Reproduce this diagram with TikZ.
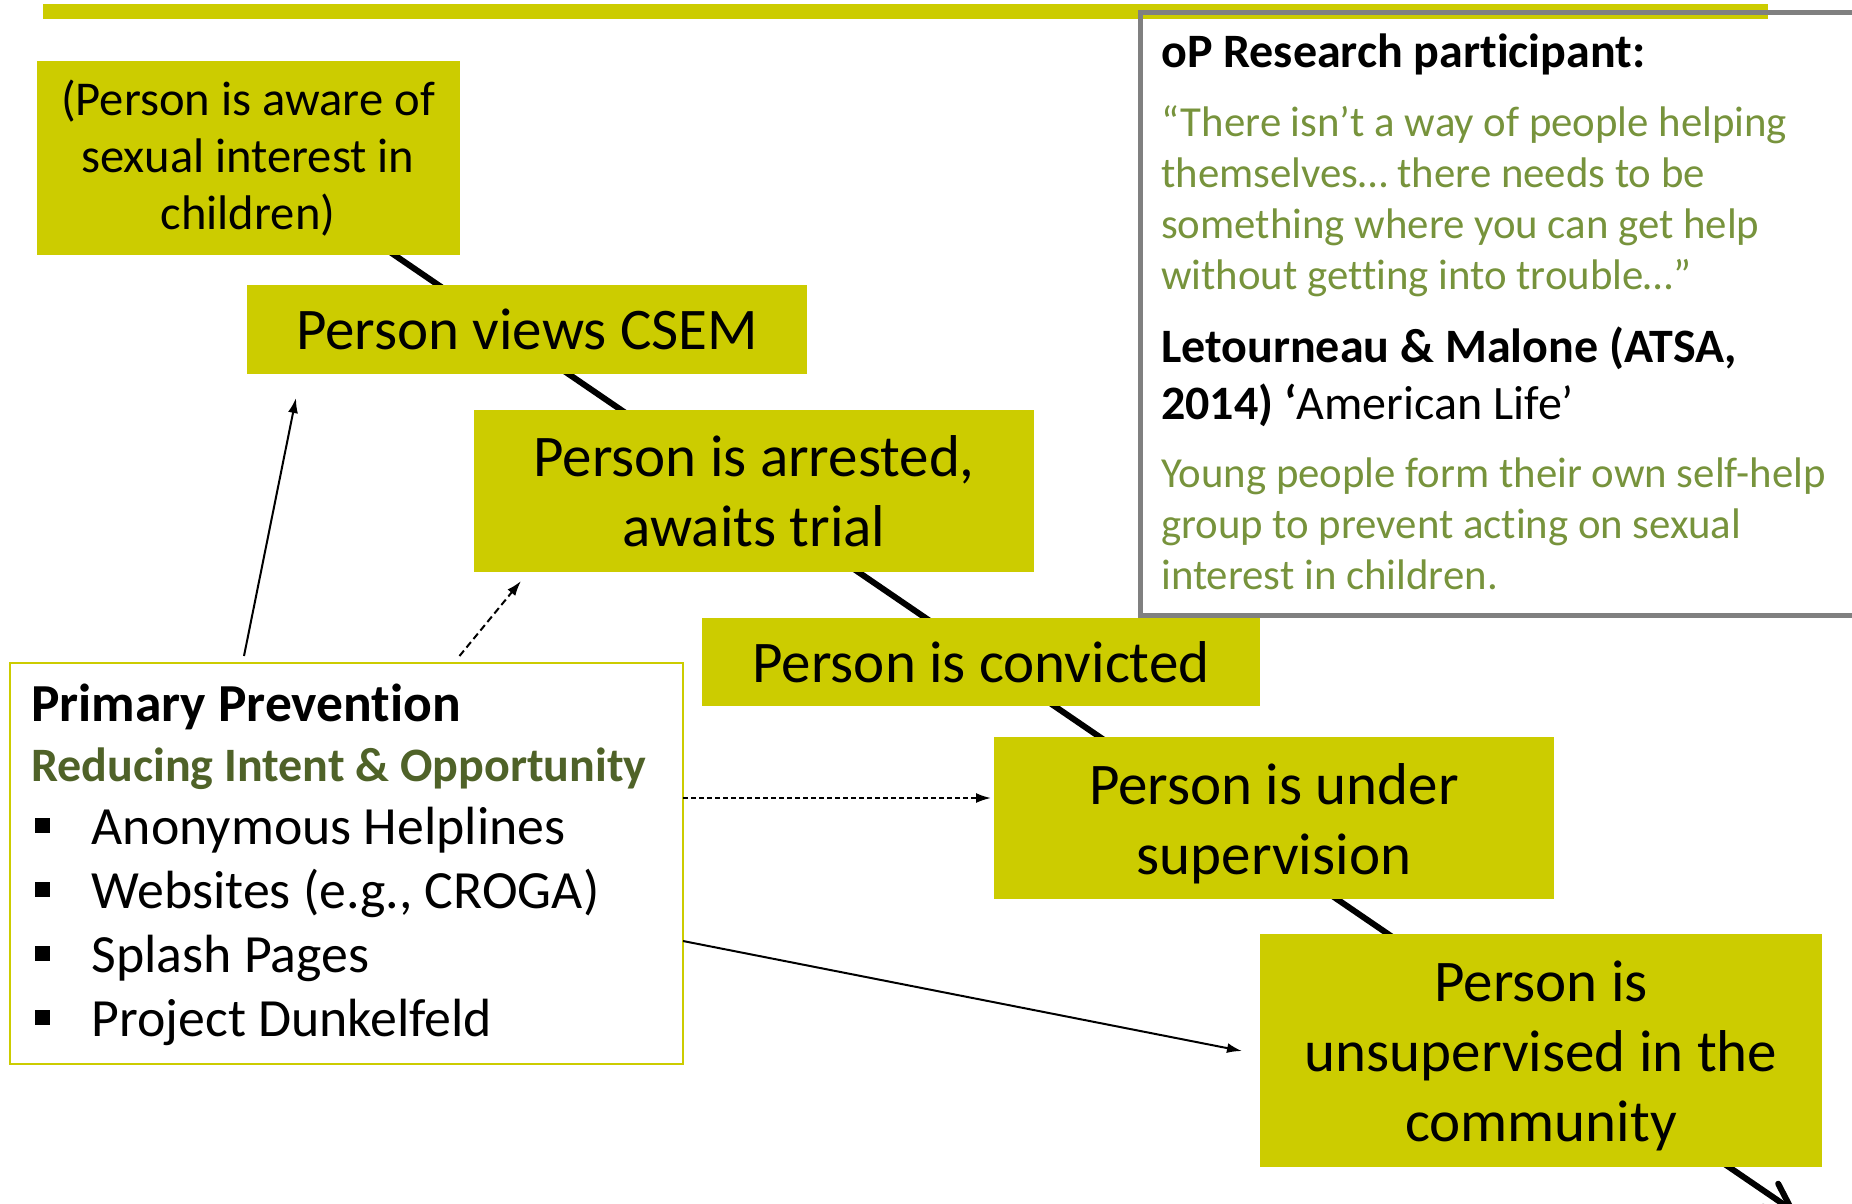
\documentclass[tikz,border=0pt]{standalone}
\usepackage{fontspec}
\setmainfont{Carlito}[Ligatures=CommonOff]
\usetikzlibrary{arrows.meta}
\definecolor{boxy}{RGB}{204,204,0}
\definecolor{qgreen}{RGB}{119,147,60}
\definecolor{dgreen}{RGB}{79,98,40}
\definecolor{qgray}{RGB}{128,128,128}
\begin{document}
\begin{tikzpicture}[x=1pt,y=-1pt,
  stage/.style={fill=boxy, inner sep=0pt, align=center, font=\fontsize{59}{70}\selectfont},
  stxt/.style={inner sep=0pt, align=center, font=\fontsize{59}{70}\selectfont},
  txt/.style={anchor=base west, inner sep=0pt},
  qtxt/.style={txt, text=qgreen, font=\fontsize{42.8}{51}\selectfont},
  btxt/.style={txt, font=\fontsize{48}{57}\selectfont\bfseries},
  item/.style={txt, font=\fontsize{53.8}{64}\selectfont},
  bulletsq/.style={fill=black, inner sep=0pt, minimum size=15pt},
  thinarrow/.style={line width=2pt, -{Latex[length=15pt,width=10pt]}},
  mainline/.style={line width=6pt, line cap=round, -{Straight Barb[length=26pt,width=28pt,line cap=round]}}
]
\path[use as bounding box] (0,0) rectangle (1852,1203);
\clip (0,0) rectangle (1852,1203);

% top bar
\fill[boxy] (42.5,4) rectangle (1768,19);

% main diagonal (behind the stage boxes)
\coordinate (mStart) at (330,211);
\coordinate (mEnd) at (1797,1213.5);
\draw[mainline] (mStart) -- (mEnd);

% quote box
\draw[qgray, line width=5pt] (1140,12) rectangle (1875,615);
\node[btxt] (qh) at (1161,67.5) {oP Research participant:};
\node[qtxt] (q1) at (1161,136) {“There isn’t a way of people helping};
\node[qtxt] (q2) at (1161,187.5) {themselves… there needs to be};
\node[qtxt] (q3) at (1161,238.5) {something where you can get help};
\node[qtxt] (q4) at (1161,289.5) {without getting into trouble…”};
\node[btxt] (l1) at (1161,362) {Letourneau \& Malone (ATSA,};
\node[btxt] (l2) at (1161,419) {2014) ‘\mdseries American Life’};
\node[qtxt] (y1) at (1161,487.5) {Young people form their own self-help};
\node[qtxt] (y2) at (1161,538.5) {group to prevent acting on sexual};
\node[qtxt] (y3) at (1161,589.5) {interest in children.};

% stage boxes
\node[stage, minimum width=423pt, minimum height=194pt, font=\fontsize{48.6}{57}\selectfont] (s1) at (248,158)
  {(Person is aware of\\sexual interest in\\children)};
\node[stage, minimum width=560pt, minimum height=89pt] (s2) at (527,329.5) {Person views CSEM};
\node[stage, minimum width=560pt, minimum height=162pt] (s3) at (754,491) {Person is arrested,\\awaits trial};
\node[stage, minimum width=558pt, minimum height=88pt] (s4) at (981,662) {Person is convicted};
\node[stage, minimum width=560pt, minimum height=162pt] (s5) at (1274,818) {};
\node[stxt] (s5t) at ([yshift=-6pt]s5.center) {Person is under\\supervision};
\node[stage, minimum width=562pt, minimum height=233pt] (s6) at (1541,1050.5) {};
\node[stxt] (s6t) at ([yshift=-5pt]s6.center) {Person is\\unsupervised in the\\community};

% primary prevention box
\node[draw=boxy, line width=2pt, fill=white, minimum width=673pt, minimum height=401pt, inner sep=0pt] (prim) at (346.5,863.5) {};
\node[txt, font=\fontsize{53.5}{60}\selectfont\bfseries] (pp) at (31,721.7) {Primary Prevention};
\node[txt, text=dgreen, font=\fontsize{48}{60}\selectfont\bfseries] (rio) at (31,781.7) {Reducing Intent \& Opportunity};
\node[bulletsq] (b1) at (42,825) {};
\node[bulletsq] (b2) at (42,889.5) {};
\node[bulletsq] (b3) at (42,953.5) {};
\node[bulletsq] (b4) at (42,1017.5) {};
\node[item] (i1) at (91.5,844) {Anonymous Helplines};
\node[item] (i2) at (91.5,908) {Websites (e.g., CROGA)};
\node[item] (i3) at (91.5,972.7) {Splash Pages};
\node[item] (i4) at (91.5,1036.7) {Project Dunkelfeld};

% arrows from primary prevention
\coordinate (a1s) at (244,656);
\coordinate (a1e) at (296,398);
\draw[thinarrow] (a1s) -- (a1e);
\coordinate (a2s) at (459.5,656);
\coordinate (a2e) at (521,581);
\draw[thinarrow, dash pattern=on 7pt off 4pt] (a2s) -- (a2e);
\coordinate (a3s) at (683,798);
\coordinate (a3e) at (991,798);
\draw[thinarrow, dash pattern=on 5pt off 3pt] (a3s) -- (a3e);
\coordinate (a4s) at (683,941);
\coordinate (a4e) at (1242,1051);
\draw[thinarrow] (a4s) -- (a4e);
\end{tikzpicture}
\end{document}
